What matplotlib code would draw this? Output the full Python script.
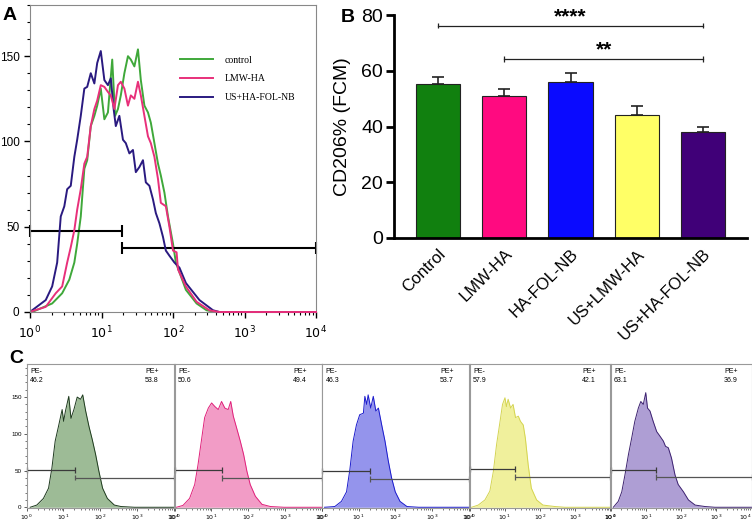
import numpy as np
import matplotlib.pyplot as plt
from matplotlib.ticker import MultipleLocator, LogLocator, NullFormatter

plt.rcParams['font.family'] = ['Liberation Sans', 'DejaVu Sans']

W, H = 752, 525

# ---- panel A: overlaid histograms (log10 intensity, counts)
a_ctrl_log = [0.03, 0.31, 0.45, 0.55, 0.62, 0.66, 0.71, 0.76, 0.80, 0.85, 0.90, 0.94, 0.99, 1.04, 1.09, 1.15,
              1.19, 1.23, 1.27, 1.32, 1.37, 1.41, 1.46, 1.51, 1.55, 1.60, 1.65, 1.69, 1.74, 1.79, 1.83, 1.88,
              1.93, 2.00, 2.04, 2.18, 2.33, 2.47, 2.61, 4.0]
a_ctrl_cnt = [0, 5, 11, 19, 29, 40, 56, 84, 89, 109, 115, 121, 131, 113, 117, 148,
              115, 119, 127, 140, 150, 148, 144, 154, 136, 121, 117, 111, 99, 87, 80, 70,
              56, 40, 29, 13, 5, 1, 0, 0]

a_lmw_log = [0.03, 0.22, 0.36, 0.45, 0.52, 0.57, 0.62, 0.66, 0.71, 0.76, 0.80, 0.85, 0.90, 0.94, 0.99, 1.04,
             1.09, 1.13, 1.18, 1.23, 1.27, 1.32, 1.37, 1.41, 1.46, 1.51, 1.55, 1.60, 1.65, 1.69, 1.74, 1.79,
             1.83, 1.90, 1.95, 2.00, 2.05, 2.07, 2.18, 2.33, 2.51, 2.65, 4.0]
a_lmw_cnt = [0.5, 3, 11, 15, 29, 38, 48, 60, 72, 87, 91, 109, 119, 124, 133, 132,
             129, 127, 119, 133, 135, 131, 121, 127, 125, 135, 127, 115, 103, 99, 91, 78,
             64, 62, 50, 36, 35, 25, 15, 6, 1, 0, 0]

a_us_log = [0.03, 0.22, 0.31, 0.38, 0.43, 0.48, 0.52, 0.57, 0.62, 0.66, 0.71, 0.76, 0.80, 0.85, 0.90, 0.94,
            0.99, 1.04, 1.09, 1.13, 1.17, 1.20, 1.25, 1.30, 1.34, 1.39, 1.44, 1.48, 1.53, 1.58, 1.62, 1.67,
            1.72, 1.76, 1.81, 1.86, 1.90, 1.95, 2.02, 2.09, 2.18, 2.37, 2.56, 2.65, 4.0]
a_us_cnt = [1, 7, 15, 29, 56, 62, 72, 74, 91, 101, 115, 131, 132, 140, 134, 146,
            153, 136, 133, 137, 119, 109, 115, 101, 99, 93, 95, 82, 85, 89, 76, 74,
            66, 58, 52, 44, 36, 33, 29, 26, 17, 7, 1, 0, 0]

a_labels = ["control", "LMW-HA", "US+HA-FOL-NB"]
a_gate_split = 1.28
a_gate_neg_y = 47.5
a_gate_pos_y = 37.5

# ---- panel B: CD206% bars
groups = ["Control", "LMW-HA", "HA-FOL-NB", "US+LMW-HA", "US+HA-FOL-NB"]
cd206_mean = [55.3, 50.9, 55.9, 44.1, 38.0]
cd206_err = [2.4, 2.5, 3.3, 3.2, 1.8]
bar_colors = ["#11800f", "#ff0a80", "#0a0aff", "#ffff66", "#400078"]
sig_pairs = [(0, 4), (1, 4)]
sig_y = [76.2, 64.2]
sig_text = ["****", "**"]

# ---- panel C: single histograms
c1_log = [0.10, 0.28, 0.46, 0.60, 0.69, 0.78, 0.87, 0.97, 1.01, 1.06, 1.15, 1.21, 1.29, 1.38, 1.47, 1.53,
          1.61, 1.70, 1.79, 1.88, 1.97, 2.07, 2.20, 2.39, 2.57, 2.94, 4.0]
c1_cnt = [0, 3, 12, 26, 53, 90, 110, 133, 117, 131, 151, 121, 133, 150, 147, 153,
          131, 110, 92, 72, 49, 26, 12, 3, 1, 0, 0]
c2_log = [0.05, 0.23, 0.41, 0.55, 0.64, 0.73, 0.82, 0.92, 1.01, 1.10, 1.19, 1.28, 1.37, 1.46, 1.53, 1.60,
          1.69, 1.79, 1.88, 1.97, 2.06, 2.20, 2.38, 2.61, 2.98, 4.0]
c2_cnt = [0, 2.5, 12, 31, 58, 90, 122, 135, 142, 137, 133, 144, 135, 133, 144, 124,
          108, 90, 72, 49, 31, 15, 4, 1, 0, 0]
c3_log = [0.07, 0.35, 0.53, 0.67, 0.76, 0.85, 0.94, 1.03, 1.13, 1.17, 1.22, 1.26, 1.33, 1.40, 1.47, 1.54,
          1.63, 1.72, 1.81, 1.90, 2.00, 2.13, 2.32, 2.64, 4.0]
c3_cnt = [0, 1, 8, 21, 51, 90, 112, 126, 128, 151, 140, 153, 135, 151, 131, 135,
          112, 90, 63, 40, 21, 8, 1, 0, 0]
c4_log = [0.06, 0.25, 0.44, 0.58, 0.68, 0.77, 0.87, 0.94, 1.01, 1.05, 1.10, 1.17, 1.24, 1.31, 1.39, 1.45,
          1.53, 1.59, 1.67, 1.76, 1.91, 2.09, 2.43, 2.71, 4.0]
c4_cnt = [0, 3, 10, 22, 49, 85, 117, 140, 149, 137, 147, 135, 140, 122, 124, 117,
          112, 94, 58, 26, 10, 3, 1, 0, 0]
c5_log = [0.08, 0.22, 0.32, 0.41, 0.51, 0.60, 0.69, 0.79, 0.86, 0.93, 1.00, 1.05, 1.12, 1.21, 1.31, 1.40,
          1.50, 1.56, 1.64, 1.73, 1.83, 1.92, 2.07, 2.21, 2.40, 2.68, 2.96, 4.0]
c5_cnt = [0, 8, 21, 44, 72, 94, 117, 135, 144, 140, 156, 135, 131, 117, 103, 97,
          90, 83, 81, 67, 44, 31, 21, 10, 3, 1, 0, 0]
c_logs = [c1_log, c2_log, c3_log, c4_log, c5_log]
c_cnts = [c1_cnt, c2_cnt, c3_cnt, c4_cnt, c5_cnt]
pe_neg = ["46.2", "50.6", "46.3", "57.9", "63.1"]
pe_pos = ["53.8", "49.4", "53.7", "42.1", "36.9"]
c_split = [1.31, 1.30, 1.31, 1.29, 1.28]
c_neg_y = [51, 51, 49, 52, 51]
c_pos_y = [40.5, 40, 38, 41.5, 41]
c_fill = ["#9dbb96", "#f29cc6", "#9494ec", "#f0f09c", "#ae9ed4"]
c_edge = ["#1e3a1e", "#e0207a", "#1a1acc", "#d4d450", "#3d2270"]
decades = [1, 10, 100, 1000, 10000]
decade_labels = [r"$10^{0}$", r"$10^{1}$", r"$10^{2}$", r"$10^{3}$", r"$10^{4}$"]


def rect(l, t, r, b):
    return [l / W, 1 - b / H, (r - l) / W, (b - t) / H]


def gate(ax, x0, x1, y, cap, color, lw):
    ax.hlines(y, x0, x1, color=color, lw=lw, clip_on=False)
    ax.vlines([x0, x1], y - cap, y + cap, color=color, lw=lw, clip_on=False)


fig = plt.figure(figsize=(W / 100, H / 100), dpi=100)

# ================= A
axA = fig.add_axes(rect(30, 5, 316, 312))
a_colors = ["#3fa83a", "#e8307a", "#2a1a80"]
a_z = [2, 4, 3]
for lg, ct, lab, col, z in zip([a_ctrl_log, a_lmw_log, a_us_log], [a_ctrl_cnt, a_lmw_cnt, a_us_cnt],
                               a_labels, a_colors, a_z):
    axA.plot(10 ** np.array(lg), ct, color=col, lw=1.4, label=lab, zorder=z, clip_on=False)
gate(axA, 1, 10 ** a_gate_split, a_gate_neg_y, 3.4, "black", 1.5)
gate(axA, 10 ** a_gate_split, 1e4, a_gate_pos_y, 3.4, "black", 1.5)
axA.set_xscale("log")
axA.set_xlim(1, 1e4)
axA.set_ylim(0, 180)
axA.set_yticks([0, 50, 100, 150])
axA.yaxis.set_minor_locator(MultipleLocator(10))
axA.set_xticks(decades, decade_labels)
axA.xaxis.set_minor_locator(LogLocator(base=10, subs=np.arange(2, 10), numticks=10))
axA.xaxis.set_minor_formatter(NullFormatter())
axA.tick_params(which="major", direction="out", length=4, width=1, labelsize=8.5)
axA.tick_params(which="minor", direction="out", length=2.5, width=0.8)
axA.tick_params(axis="x", labelsize=9, pad=5)
for s in axA.spines.values():
    s.set_color("#888888")
    s.set_linewidth(0.8)
leg = axA.legend(loc="upper left", bbox_to_anchor=(0.524, 0.835), frameon=False, borderpad=0,
                 borderaxespad=0, handlelength=3.4, handletextpad=1.2, labelspacing=1.0,
                 prop={"family": "Liberation Serif", "size": 7})

# ================= B
axB = fig.add_axes(rect(394, 15, 747, 238))
xb = np.arange(len(groups))
axB.bar(xb, cd206_mean, width=0.67, color=bar_colors, edgecolor="#222222", linewidth=0.8,
        yerr=[np.zeros(len(groups)), cd206_err], capsize=4.5,
        error_kw=dict(elinewidth=1.2, capthick=1.2, ecolor="#222222"), zorder=2)
for (i, j), y, t in zip(sig_pairs, sig_y, sig_text):
    axB.plot([i, j], [y, y], color="#222222", lw=0.9)
    axB.vlines([i, j], y - 1, y + 1, color="#222222", lw=0.9)
    axB.text((i + j) / 2, y + 1.2, t, ha="center", va="baseline", fontsize=15, fontweight="bold")
axB.set_xlim(-0.667, 4.667)
axB.set_ylim(0, 80)
axB.set_yticks([0, 20, 40, 60, 80])
axB.set_xticks(xb)
axB.set_xticklabels(groups, rotation=45, ha="right", rotation_mode="anchor", fontsize=12)
axB.tick_params(axis="y", direction="out", length=6, width=2, labelsize=14, pad=2)
axB.tick_params(axis="x", length=0, pad=6)
for s in ["top", "right"]:
    axB.spines[s].set_visible(False)
for s in ["left", "bottom"]:
    axB.spines[s].set_linewidth(2)
axB.set_ylabel("CD206% (FCM)", fontsize=14)
axB.yaxis.set_label_coords(-0.122, 0.5)

# ================= C
c_rects = [(26.5, 364, 173.5, 508), (174.5, 364, 321.5, 508), (322, 364, 468.5, 508),
           (469.5, 364, 610, 508), (610.5, 364, 751.5, 508)]
for k in range(5):
    ax = fig.add_axes(rect(*c_rects[k]))
    xs = 10 ** np.array(c_logs[k])
    ax.fill_between(xs, c_cnts[k], 0, color=c_fill[k], lw=0)
    ax.plot(xs, c_cnts[k], color=c_edge[k], lw=0.7)
    gate(ax, 1, 10 ** c_split[k], c_neg_y[k], 4, "#3a3a3a", 0.9)
    gate(ax, 10 ** c_split[k], 1e4, c_pos_y[k], 4, "#555555", 0.9)
    ax.set_xscale("log")
    ax.set_xlim(1, 1e4)
    ax.set_ylim(-1, 195)
    ax.set_xticks(decades, decade_labels)
    ax.xaxis.set_minor_locator(LogLocator(base=10, subs=np.arange(2, 10), numticks=10))
    ax.xaxis.set_minor_formatter(NullFormatter())
    ax.tick_params(which="major", direction="out", length=2, width=0.6, labelsize=4.5, pad=1.5,
                   color="#444444")
    ax.tick_params(which="minor", direction="out", length=1.2, width=0.5, color="#444444")
    if k == 0:
        ax.set_yticks([0, 50, 100, 150])
        ax.yaxis.set_minor_locator(MultipleLocator(10))
    else:
        ax.set_yticks([])
    if k == 4:
        ax.get_xticklabels()[-1].set_horizontalalignment("right")
    for s in ax.spines.values():
        s.set_color("#999999")
        s.set_linewidth(0.8)
    ax.text(0.025, 0.945, "PE-", transform=ax.transAxes, fontsize=5, ha="left", va="center")
    ax.text(0.025, 0.885, pe_neg[k], transform=ax.transAxes, fontsize=5, ha="left", va="center")
    ax.text(0.90, 0.945, "PE+", transform=ax.transAxes, fontsize=5, ha="right", va="center")
    ax.text(0.90, 0.885, pe_pos[k], transform=ax.transAxes, fontsize=5, ha="right", va="center")

fig.text(3 / W, 1 - 20 / H, "A", fontsize=14, fontweight="bold", va="baseline")
fig.text(341 / W, 1 - 22 / H, "B", fontsize=14, fontweight="bold", va="baseline")
fig.text(9 / W, 1 - 363 / H, "C", fontsize=14, fontweight="bold", va="baseline")

fig.savefig("out.png", dpi=100)
